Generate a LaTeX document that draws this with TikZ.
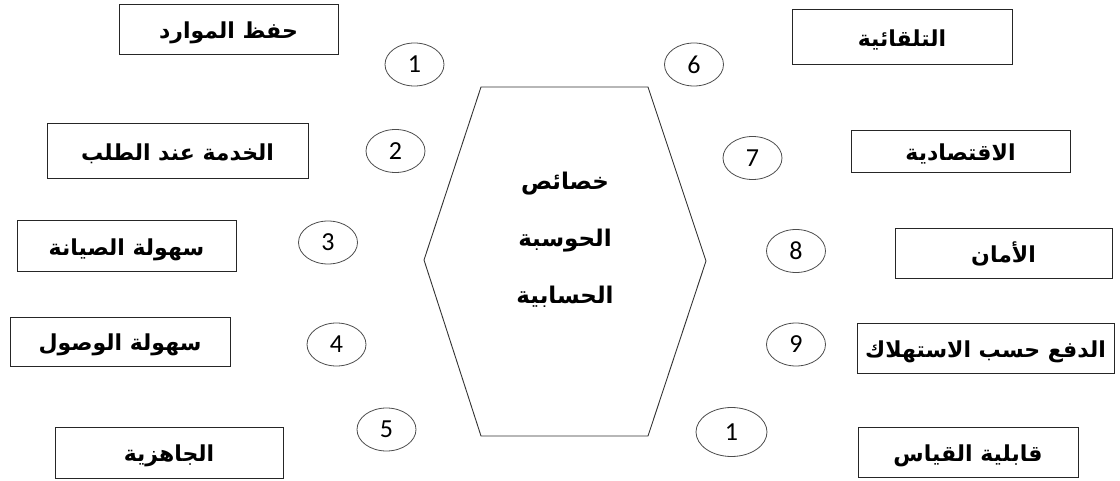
\documentclass[tikz,border=0pt]{standalone}
\usepackage{fontspec}
\TeXXeTstate=1
\newfontfamily\arabicfont[Script=Arabic]{DejaVu Sans}
\newfontfamily\arabicbold[Script=Arabic]{DejaVu Sans Bold}
\newfontfamily\numfont{Carlito}
\usetikzlibrary{shapes.geometric}
\begin{document}
\begin{tikzpicture}[x=1pt,y=-1pt,
  lbl/.style={draw=black!85, line width=1pt, rectangle, inner sep=0pt,
    text height=20pt, text depth=2pt,
    font=\arabicbold\fontsize{22}{26}\selectfont},
  num/.style={draw=black!70, line width=0.8pt, ellipse, inner sep=0pt,
    minimum width=59pt, minimum height=43pt, font=\numfont\fontsize{26}{30}\selectfont},
  hexline/.style={draw=black!80, line width=0.9pt},
  ctext/.style={align=center, font=\arabicbold\fontsize{23}{57}\selectfont}
]
\useasboundingbox (0,0) rectangle (1120,481);
% left boxes
\node[lbl, minimum width=219pt, minimum height=50pt] (b1) at (228.5,30) {\beginR حفظ الموارد\endR};
\node[lbl, minimum width=261pt, minimum height=55pt] (b2) at (177.5,151.5) {\beginR الخدمة عند الطلب\endR};
\node[lbl, minimum width=219pt, minimum height=51pt] (b3) at (126.5,246.5) {\beginR سهولة الصيانة\endR};
\node[lbl, minimum width=220pt, minimum height=48pt] (b4) at (120,342) {\beginR سهولة الوصول\endR};
\node[lbl, minimum width=228pt, minimum height=51pt] (b5) at (169,452.5) {\beginR الجاهزية\endR};
% right boxes
\node[lbl, minimum width=220pt, minimum height=55pt] (b6) at (902,37.5) {\beginR التلقائية\endR};
\node[lbl, minimum width=219pt, minimum height=42pt] (b7) at (960.5,152) {\beginR الاقتصادية\endR};
\node[lbl, minimum width=217pt, minimum height=50pt] (b8) at (1003.5,254) {\beginR الأمان\endR};
\node[lbl, minimum width=257pt, minimum height=49pt] (b9) at (985.5,348.5) {\beginR الدفع حسب الاستهلاك\endR};
\node[lbl, minimum width=220pt, minimum height=50pt] (b10) at (968,452) {\beginR قابلية القياس\endR};
% circles
\node[num] (c1) at (414.5,64.5) {1};
\node[num] (c2) at (395.5,151) {2};
\node[num] (c3) at (328,242.5) {3};
\node[num] (c4) at (336.5,344.5) {4};
\node[num] (c5) at (386.5,429.5) {5};
\node[num] (c6) at (694,64.5) {6};
\node[num] (c7) at (752.5,158) {7};
\node[num] (c8) at (796,251) {8};
\node[num] (c9) at (796,344.5) {9};
\node[num, minimum width=71pt, minimum height=49pt] (c10) at (731.5,432) {1};
% hexagon
\coordinate (h1) at (481,87);
\coordinate (h2) at (648,87);
\coordinate (h3) at (706,261);
\coordinate (h4) at (648,436);
\coordinate (h5) at (481,436);
\coordinate (h6) at (424,260);
\draw[hexline] (h1) -- (h2) -- (h3) -- (h4) -- (h5) -- (h6) -- cycle;
\node[ctext] (center) at (565,240) {\beginR خصائص\endR\\ \beginR الحوسبة\endR\\ \beginR الحسابية\endR};
\end{tikzpicture}
\end{document}
